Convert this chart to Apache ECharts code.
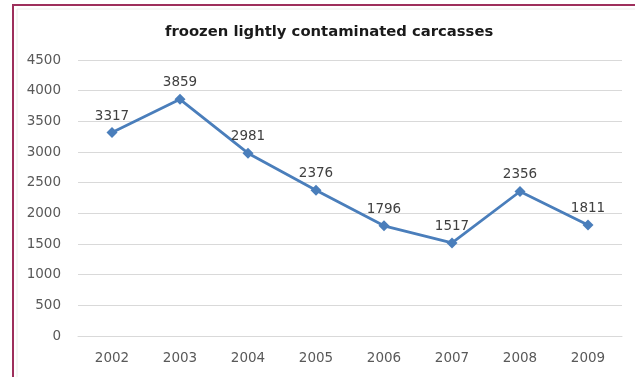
<!DOCTYPE html>
<html>
<head>
<meta charset="utf-8">
<script src="https://cdn.jsdelivr.net/npm/echarts@6/dist/echarts.min.js"></script>
<style>
  html, body { margin: 0; padding: 0; background: #fff; }
  #chart { width: 635px; height: 377px; }
</style>
</head>
<body>
<div id="chart"></div>
<script>
// Yearly counts of frozen lightly contaminated carcasses
const years = ['2002', '2003', '2004', '2005', '2006', '2007', '2008', '2009'];
const carcasses = [3317, 3859, 2981, 2376, 1796, 1517, 2356, 1811];
const titleText = 'froozen lightly contaminated carcasses';

const chart = echarts.init(document.getElementById('chart'));
const txtFont = '"DejaVu Sans", sans-serif';

chart.setOption({
  backgroundColor: '#ffffff',
  animation: false,
  title: {
    text: titleText,
    left: 160,
    top: 20,
    textStyle: { fontFamily: txtFont, fontWeight: 'bold', fontSize: 14.8, color: '#1a1a1a' }
  },
  grid: { left: 78, right: 13, top: 60, bottom: 41 },
  xAxis: {
    type: 'category',
    data: years,
    boundaryGap: true,
    axisLine: { show: true, lineStyle: { color: '#d9d9d9', width: 1 } },
    axisTick: { show: false },
    axisLabel: { color: '#595959', fontFamily: txtFont, fontSize: 13.5, margin: 15 }
  },
  yAxis: {
    type: 'value',
    min: 0,
    max: 4500,
    interval: 500,
    axisLine: { show: false },
    axisTick: { show: false },
    splitLine: { lineStyle: { color: '#d9d9d9', width: 1 } },
    axisLabel: {
      color: '#595959', fontFamily: txtFont, fontSize: 13.5, margin: 17,
      formatter: v => String(v)
    }
  },
  series: [{
    type: 'line',
    data: carcasses,
    symbol: 'diamond',
    symbolSize: 11,
    lineStyle: { color: '#4a7ebb', width: 2.8 },
    itemStyle: { color: '#4a7ebb' },
    label: {
      show: true,
      position: 'top',
      distance: 4,
      color: '#404040',
      fontFamily: txtFont,
      fontSize: 13.5
    }
  }],
  graphic: [
    // chart frame: left and top edges
    { type: 'line', shape: { x1: 13, y1: 5, x2: 13, y2: 377 }, style: { stroke: '#9e2f5c', lineWidth: 2 } },
    { type: 'line', shape: { x1: 12, y1: 5, x2: 635, y2: 5 }, style: { stroke: '#9e2f5c', lineWidth: 2 } },
    { type: 'line', shape: { x1: 17, y1: 9, x2: 17, y2: 377 }, style: { stroke: '#ececec', lineWidth: 1 } },
    { type: 'line', shape: { x1: 17, y1: 9, x2: 635, y2: 9 }, style: { stroke: '#ececec', lineWidth: 1 } }
  ]
});
</script>
</body>
</html>
